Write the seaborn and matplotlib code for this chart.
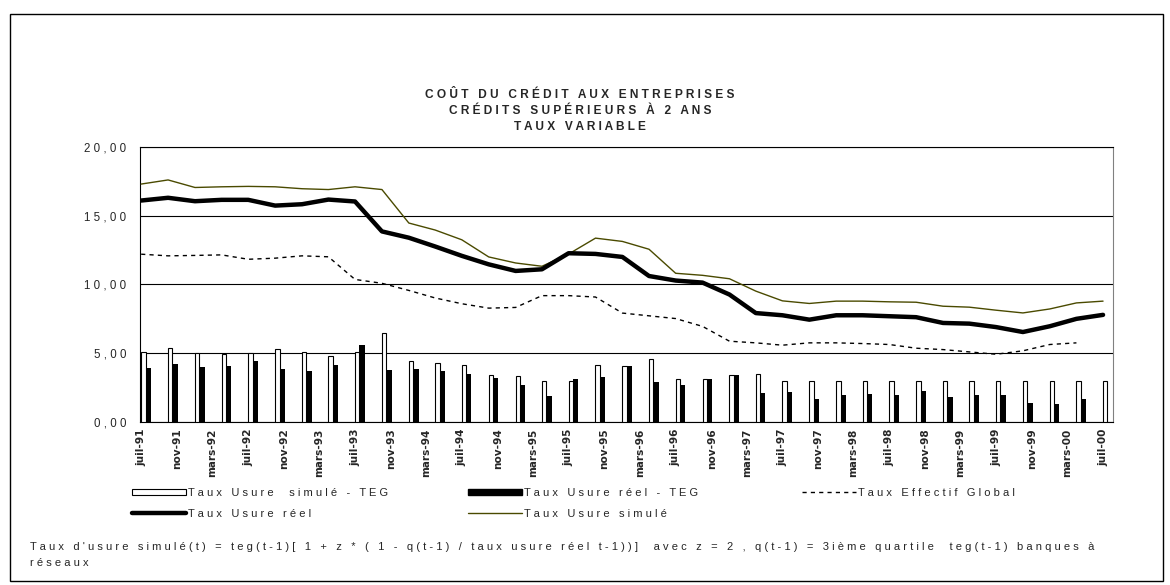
import matplotlib
matplotlib.use("Agg")
import matplotlib.pyplot as plt
from matplotlib.patches import Rectangle, Patch
from matplotlib.lines import Line2D
import numpy as np
import pandas as pd
import seaborn as sns

# quarterly observations, juil-91 .. juil-00
dates = pd.date_range("1991-07-01", "2000-07-01", freq="3MS")
tick_dates = pd.date_range("1991-07-01", "2000-07-01", freq="4MS")
tick_labels = ["juil-91", "nov-91", "mars-92", "juil-92", "nov-92", "mars-93",
               "juil-93", "nov-93", "mars-94", "juil-94", "nov-94", "mars-95",
               "juil-95", "nov-95", "mars-96", "juil-96", "nov-96", "mars-97",
               "juil-97", "nov-97", "mars-98", "juil-98", "nov-98", "mars-99",
               "juil-99", "nov-99", "mars-00", "juil-00"]
yticks = [0, 5, 10, 15, 20]

usure_reel = [16.10, 16.30, 16.05, 16.15, 16.15, 15.73, 15.83, 16.17, 16.03, 13.85,
              13.39, 12.75, 12.07, 11.45, 10.97, 11.09, 12.26, 12.21, 11.99, 10.60,
              10.27, 10.12, 9.25, 7.90, 7.74, 7.42, 7.74, 7.74, 7.67, 7.60,
              7.18, 7.13, 6.88, 6.52, 6.94, 7.48, 7.77]
usure_simule = [17.30, 17.60, 17.05, 17.10, 17.13, 17.10, 16.96, 16.90, 17.10, 16.90,
                14.46, 13.95, 13.24, 11.99, 11.55, 11.31, 12.20, 13.36, 13.12, 12.55,
                10.80, 10.65, 10.40, 9.50, 8.79, 8.60, 8.77, 8.77, 8.72, 8.69,
                8.40, 8.33, 8.11, 7.91, 8.20, 8.64, 8.77]
teg = [12.19, 12.07, 12.10, 12.14, 11.82, 11.90, 12.07, 12.00, 10.35, 10.07,
       9.55, 9.00, 8.58, 8.26, 8.31, 9.17, 9.17, 9.07, 7.90, 7.70,
       7.50, 6.93, 5.85, 5.73, 5.56, 5.73, 5.73, 5.68, 5.61, 5.34,
       5.24, 5.07, 4.90, 5.15, 5.61, 5.73, np.nan]
ecart_simule = [5.10, 5.34, 5.00, 4.93, 5.00, 5.29, 5.07, 4.76, 5.07, 6.47,
                4.39, 4.29, 4.14, 3.36, 3.29, 2.97, 2.97, 4.10, 4.05, 4.58,
                3.09, 3.09, 3.41, 3.48, 2.97, 2.97, 2.97, 2.97, 2.97, 2.97,
                2.97, 2.97, 2.97, 2.97, 2.97, 2.97, 2.97]
ecart_reel = [3.88, 4.17, 3.95, 4.02, 4.39, 3.83, 3.70, 4.14, 5.56, 3.78,
              3.80, 3.68, 3.48, 3.19, 2.65, 1.89, 3.07, 3.26, 4.05, 2.85,
              2.68, 3.09, 3.36, 2.07, 2.14, 1.65, 1.90, 1.97, 1.95, 2.21,
              1.82, 1.90, 1.95, 1.33, 1.28, 1.65, np.nan]

lab_sim_teg = "Taux Usure  simulé - TEG"
lab_reel_teg = "Taux Usure réel - TEG"
lab_teg = "Taux Effectif Global"
lab_reel = "Taux Usure réel"
lab_sim = "Taux Usure simulé"
title_lines = ["COÛT DU CRÉDIT AUX ENTREPRISES", "CRÉDITS SUPÉRIEURS À 2 ANS", "TAUX VARIABLE"]
note = ["Taux d'usure simulé(t) = teg(t-1)[ 1 + z * ( 1 - q(t-1) / taux usure réel t-1))]  "
        "avec z = 2 , q(t-1) = 3ième quartile  teg(t-1) banques à", "réseaux"]

OLIVE = "#4a4a00"

sns.set_style("white")
plt.rcParams["font.family"] = ["Liberation Sans", "DejaVu Sans"]


def spaced(s):
    # the original chart is drawn with wide letter spacing
    return " ".join(s)


W, H = 1170, 585
fig = plt.figure(figsize=(W / 100, H / 100), dpi=100)
ax = fig.add_axes([140 / W, 1 - 421.5 / H, 973 / W, 274.5 / H])

day = pd.Timedelta(days=1)
ax.bar(dates, ecart_simule, width=15, align="edge", color="white",
       edgecolor="black", linewidth=0.8, zorder=3)
ax.bar(dates + 15 * day, ecart_reel, width=18, align="edge", color="black",
       linewidth=0, zorder=3)

sns.lineplot(x=dates, y=teg, ax=ax, color="black", linewidth=1.0,
             linestyle=(0, (3, 3)), zorder=4)
sns.lineplot(x=dates, y=usure_simule, ax=ax, color=OLIVE, linewidth=1.0, zorder=4)
sns.lineplot(x=dates, y=usure_reel, ax=ax, color="black", linewidth=3.2, zorder=5)

ax.set_ylim(0, 20)
ax.set_xlim(dates[0] - 4 * day, dates[-1] + 34 * day)
ax.set_yticks(yticks)
ax.set_yticklabels([spaced(f"{v:.2f}".replace(".", ",")) for v in yticks], fontsize=8.3)
ax.set_xticks(tick_dates)
ax.set_xticklabels(tick_labels, rotation=90, fontsize=7.6, fontweight="bold",
                   family="DejaVu Sans")
ax.set_xlabel("")
ax.set_ylabel("")
ax.yaxis.grid(True, color="black", linewidth=0.8)
ax.set_axisbelow(True)
ax.tick_params(axis="both", direction="out", length=3, width=0.8, color="black")
ax.tick_params(axis="y", pad=7)
ax.tick_params(axis="x", pad=2)
for side in ["left", "bottom", "top"]:
    ax.spines[side].set_color("black")
    ax.spines[side].set_linewidth(0.8)
ax.spines["right"].set_color("#808080")
ax.spines["right"].set_linewidth(0.8)

# title
for k, line in enumerate(title_lines):
    fig.text(580 / W, 1 - (95 + 16 * k) / H, spaced(line), ha="center", va="center",
             fontsize=8.6, fontweight="bold")

# legend, laid out like the original three columns
h_sim_teg = Patch(facecolor="white", edgecolor="black", linewidth=0.8)
h_reel_teg = Patch(facecolor="black", edgecolor="black")
h_teg = Line2D([], [], color="black", linewidth=1.0, linestyle=(0, (3, 3)))
h_reel = Line2D([], [], color="black", linewidth=3.2)
h_sim = Line2D([], [], color=OLIVE, linewidth=1.0)

leg_kw = dict(loc="upper left", frameon=False, fontsize=8, handlelength=4.9,
              handleheight=0.5, handletextpad=0.15, labelspacing=0.95,
              borderpad=0, borderaxespad=0)
fig.legend([h_sim_teg, h_reel], [spaced(lab_sim_teg), spaced(lab_reel)],
           bbox_to_anchor=(132 / W, 1 - 488 / H), **leg_kw)
fig.legend([h_reel_teg, h_sim], [spaced(lab_reel_teg), spaced(lab_sim)],
           bbox_to_anchor=(468 / W, 1 - 488 / H), **leg_kw)
fig.legend([h_teg], [spaced(lab_teg)],
           bbox_to_anchor=(802 / W, 1 - 488 / H), **leg_kw)

# footnote
for k, line in enumerate(note):
    fig.text(30 / W, 1 - (547 + 16 * k) / H, spaced(line), ha="left", va="center",
             fontsize=8)

# outer chart frame
fig.add_artist(Rectangle((10 / W, 1 - 581 / H), 1153 / W, 567 / H,
                         transform=fig.transFigure, fill=False,
                         edgecolor="black", linewidth=1))

fig.savefig("out.png", dpi=100)
plt.close(fig)
